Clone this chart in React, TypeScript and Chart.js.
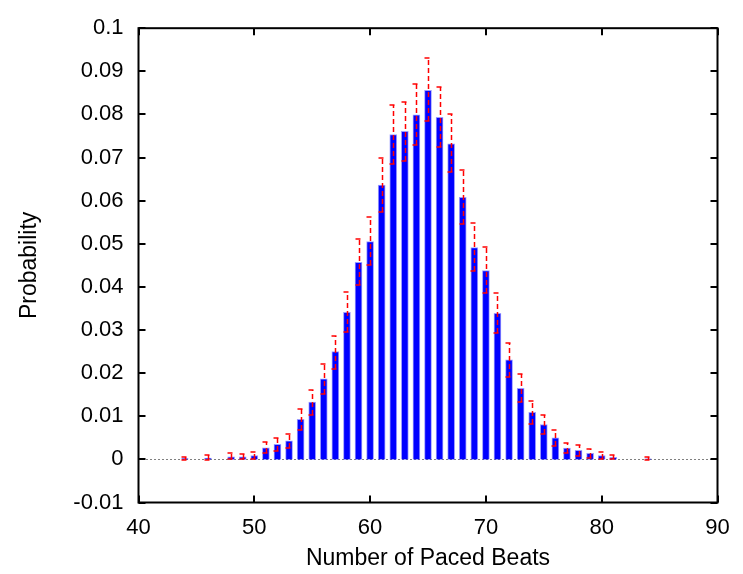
import React, { useEffect, useRef } from "react";
import { Chart, registerables } from "chart.js";

Chart.register(...registerables);

const beats = [44, 46, 48, 49, 50, 51, 52, 53, 54, 55, 56, 57, 58, 59, 60, 61, 62, 63, 64, 65, 66, 67, 68, 69, 70, 71, 72, 73, 74, 75, 76, 77, 78, 79, 80, 81, 84];
const probability = [0.0002, 0.0003, 0.0006, 0.0006, 0.0009, 0.0027, 0.0035, 0.0043, 0.0093, 0.0133, 0.0187, 0.025, 0.0341, 0.0457, 0.0505, 0.0636, 0.0753, 0.0761, 0.0799, 0.0856, 0.0793, 0.0732, 0.0608, 0.0491, 0.0438, 0.0339, 0.0231, 0.0165, 0.0109, 0.0081, 0.005, 0.0026, 0.0021, 0.0014, 0.0009, 0.0005, 0.0001];
const errHigh = [0.0006, 0.001, 0.0015, 0.0012, 0.0017, 0.0041, 0.005, 0.006, 0.0118, 0.0162, 0.0222, 0.0285, 0.0388, 0.0511, 0.0562, 0.0699, 0.0822, 0.083, 0.087, 0.093, 0.0864, 0.08, 0.067, 0.0548, 0.0492, 0.0386, 0.0269, 0.0198, 0.0136, 0.0104, 0.0069, 0.0039, 0.0033, 0.0023, 0.0016, 0.001, 0.0006];
const errLow = [-0.0002, -0.0001, 0.0, 0.0, 0.0001, 0.0014, 0.002, 0.0026, 0.0068, 0.0104, 0.0152, 0.021, 0.0295, 0.0404, 0.045, 0.0573, 0.0686, 0.0693, 0.073, 0.0784, 0.0725, 0.0667, 0.0547, 0.0436, 0.0386, 0.0293, 0.0192, 0.0133, 0.0083, 0.0058, 0.0032, 0.0014, 0.0008, 0.0003, 0.0002, 0.0, -0.0001];

const xTitle = "Number of Paced Beats";
const yTitle = "Probability";

const FONT = "'Liberation Sans', Arial, Helvetica, sans-serif";

const framePlugin = {
  id: "gnuplotFrame",
  beforeDatasetsDraw(chart: any) {
    const { ctx, chartArea, scales } = chart;
    const y0 = Math.round(scales.y.getPixelForValue(0)) + 0.5;
    ctx.save();
    ctx.strokeStyle = "#000";
    ctx.lineWidth = 1;
    ctx.setLineDash([1, 3]);
    ctx.beginPath();
    ctx.moveTo(chartArea.left, y0);
    ctx.lineTo(chartArea.right, y0);
    ctx.stroke();
    ctx.restore();
  },
  afterDatasetsDraw(chart: any) {
    const { ctx, scales } = chart;
    const xs = scales.x;
    const ys = scales.y;
    ctx.save();
    ctx.strokeStyle = "#ff0000";
    ctx.lineWidth = 1.5;
    ctx.setLineDash([5, 3]);
    const cap = 4;
    for (let i = 0; i < beats.length; i++) {
      const x = Math.round(xs.getPixelForValue(beats[i])) + 0.5;
      const yh = Math.round(ys.getPixelForValue(errHigh[i]));
      const yl = Math.round(ys.getPixelForValue(errLow[i]));
      ctx.beginPath();
      ctx.moveTo(x, yl);
      ctx.lineTo(x, yh);
      ctx.stroke();
      ctx.beginPath();
      ctx.moveTo(x - cap, yh);
      ctx.lineTo(x + cap, yh);
      ctx.stroke();
      ctx.beginPath();
      ctx.moveTo(x - cap, yl);
      ctx.lineTo(x + cap, yl);
      ctx.stroke();
    }
    ctx.restore();
  },
  afterDraw(chart: any) {
    const { ctx, chartArea, scales } = chart;
    const { left, right, top, bottom } = chartArea;
    ctx.save();
    ctx.strokeStyle = "#000";
    ctx.lineWidth = 2;
    ctx.setLineDash([]);
    const tl = 7;
    ctx.beginPath();
    scales.y.ticks.forEach((t: any) => {
      const p = Math.round(scales.y.getPixelForValue(t.value));
      ctx.moveTo(left, p);
      ctx.lineTo(left + tl, p);
      ctx.moveTo(right, p);
      ctx.lineTo(right - tl, p);
    });
    scales.x.ticks.forEach((t: any) => {
      const p = Math.round(scales.x.getPixelForValue(t.value));
      ctx.moveTo(p, bottom);
      ctx.lineTo(p, bottom - tl);
      ctx.moveTo(p, top);
      ctx.lineTo(p, top + tl);
    });
    ctx.stroke();
    ctx.strokeRect(left, top, right - left, bottom - top);
    ctx.restore();
  },
};

export default function App() {
  const ref = useRef<HTMLCanvasElement | null>(null);
  useEffect(() => {
    if (!ref.current) return;
    const chart = new Chart(ref.current, {
      type: "bar",
      data: {
        datasets: [
          {
            data: beats.map((b, i) => ({ x: b, y: probability[i] })),
            backgroundColor: "#0000ff",
            borderColor: "rgba(90,90,255,0.6)",
            borderWidth: 1,
            barThickness: 7,
            grouped: false,
          } as any,
        ],
      },
      options: {
        animation: false,
        responsive: true,
        maintainAspectRatio: false,
        layout: { padding: { top: 17, right: 25.5, left: 0, bottom: 0 } },
        plugins: { legend: { display: false }, tooltip: { enabled: false } },
        scales: {
          x: {
            type: "linear",
            min: 40,
            max: 90,
            offset: false,
            grid: { display: false, offset: false, drawTicks: false },
            border: { display: false },
            ticks: {
              stepSize: 10,
              color: "#000",
              font: { family: FONT, size: 22 },
              padding: 12,
              maxRotation: 0,
            },
            title: {
              display: true,
              text: xTitle,
              color: "#000",
              font: { family: FONT, size: 23 },
              padding: { top: 0, bottom: 2 },
            },
            afterFit: (s: any) => {
              s.height = 71.5;
            },
          },
          y: {
            type: "linear",
            min: -0.01,
            max: 0.1,
            grid: { display: false, drawTicks: false },
            border: { display: false },
            ticks: {
              stepSize: 0.01,
              color: "#000",
              font: { family: FONT, size: 22 },
              padding: 15,
              callback: (v: any) => String(Math.round(Number(v) * 100) / 100),
            },
            title: {
              display: true,
              text: yTitle,
              color: "#000",
              font: { family: FONT, size: 23 },
              padding: { top: 16, bottom: 0 },
            },
            afterFit: (s: any) => {
              s.width = 138.5;
            },
          },
        },
      },
      plugins: [framePlugin],
    });
    return () => chart.destroy();
  }, []);
  return (
    <div style={{ position: "absolute", left: 0, top: 0, width: 743, height: 574, background: "#fff" }}>
      <canvas ref={ref} />
    </div>
  );
}
